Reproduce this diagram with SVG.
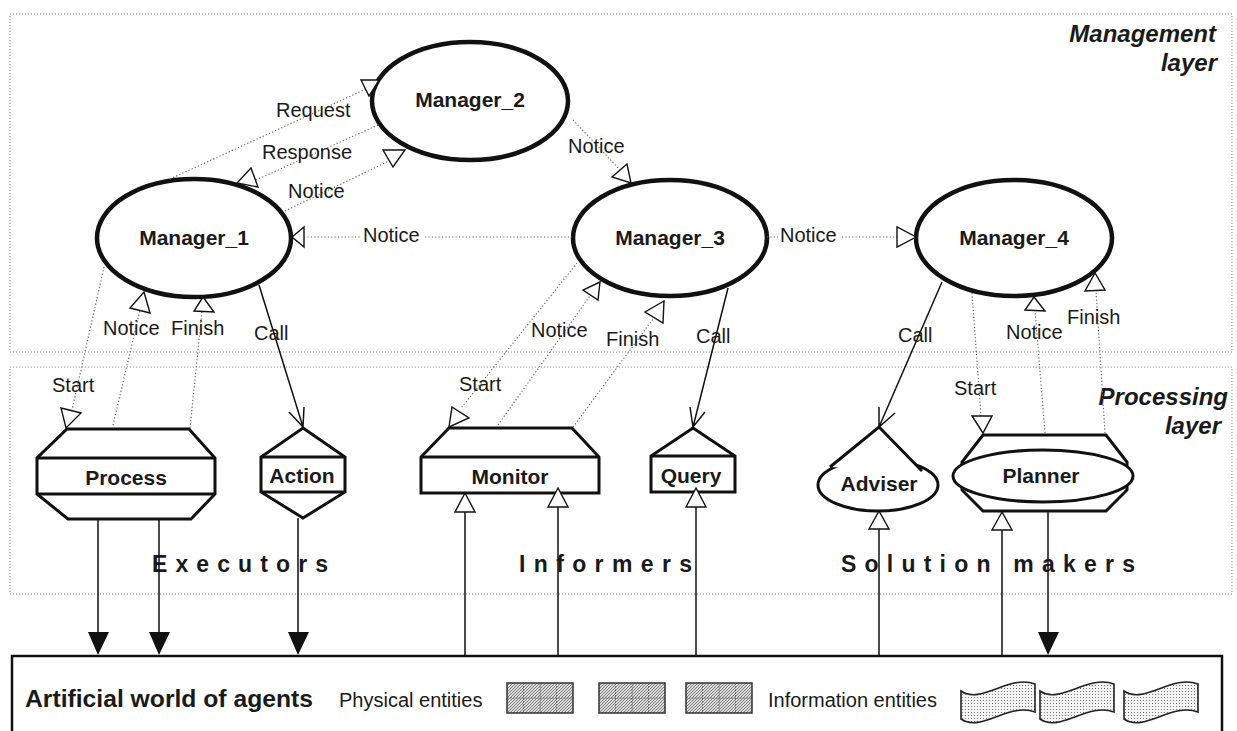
<svg xmlns="http://www.w3.org/2000/svg" width="1237" height="731" viewBox="0 0 1237 731">
<style>
.layer{fill:none;stroke:#888;stroke-width:1;stroke-dasharray:1 2}
.mgr{fill:#fff;stroke:#111;stroke-width:4.5}
.shp{fill:#fff;stroke:#111;stroke-width:3}
.dot{fill:none;stroke:#666;stroke-width:1.2;stroke-dasharray:1.2 2.2}
.sol{fill:none;stroke:#111;stroke-width:1.5}
.oa{fill:#fff;stroke:#111;stroke-width:1.4;stroke-linejoin:miter}
.fa{fill:#111}
text{font-family:"Liberation Sans",Arial,Helvetica,sans-serif;fill:#1a1a1a}
.lbl{font-size:20px}
.nb{font-size:21px;font-weight:bold;text-anchor:middle}
.ll{font-size:24px;font-weight:bold;font-style:italic;text-anchor:end}
.grp{font-size:23px;font-weight:bold}
</style>
<defs>
<pattern id="hatch" patternUnits="userSpaceOnUse" width="3" height="3">
<rect width="3" height="3" fill="#dcdcdc"/>
<path d="M-1,1 L1,-1 M0,3 L3,0 M2,4 L4,2" stroke="#555" stroke-width="0.7"/>
</pattern>
<pattern id="stip" patternUnits="userSpaceOnUse" width="3" height="3">
<rect width="3" height="3" fill="#f4f4f4"/>
<circle cx="1.5" cy="1.5" r="0.55" fill="#666"/>
</pattern>
<g id="phys">
<rect x="0" y="0" width="66" height="30" fill="url(#hatch)" stroke="#333" stroke-width="1.5"/>
<path d="M16.5,0 V30 M33,0 V30 M49.5,0 V30 M0,15 H66" stroke="#555" stroke-width="0.7" stroke-dasharray="2 1"/>
</g>
<path id="flag" d="M0,7 C20,21 48,-10 74,0 L74,28 C48,18 20,49 0,35 Z" fill="url(#stip)" stroke="#222" stroke-width="1.6"/>
</defs>

<g id="layers">
<rect class="layer" x="10" y="14" width="1222" height="338"/>
<rect class="layer" x="10" y="367" width="1222" height="227"/>
<text class="ll" x="1216" y="42">Management</text>
<text class="ll" x="1217" y="71">layer</text>
<text class="ll" x="1228" y="405">Processing</text>
<text class="ll" x="1221" y="434">layer</text>
<text class="grp" x="152" y="572" textLength="176" lengthAdjust="spacing">Executors</text>
<text class="grp" x="519" y="572" textLength="173" lengthAdjust="spacing">Informers</text>
<text class="grp" x="841" y="572" textLength="294" lengthAdjust="spacing">Solution makers</text>
</g>

<g id="manager_1"><ellipse class="mgr" cx="194" cy="238" rx="97" ry="59"/><text class="nb" x="194" y="245">Manager_1</text></g>
<g id="manager_2"><ellipse class="mgr" cx="470" cy="101" rx="98" ry="59"/><text class="nb" x="470" y="107">Manager_2</text></g>
<g id="manager_3"><ellipse class="mgr" cx="670" cy="238" rx="97" ry="58"/><text class="nb" x="670" y="245">Manager_3</text></g>
<g id="manager_4"><ellipse class="mgr" cx="1014" cy="238" rx="98" ry="58"/><text class="nb" x="1014" y="245">Manager_4</text></g>

<g id="process">
<polygon class="shp" points="67,429 189,429 215,458 215,494 191,519 68,519 37,494 37,458"/>
<path class="shp" d="M37,458 H215 M37,494 H215"/>
<text class="nb" x="126" y="485">Process</text>
</g>
<g id="action">
<polygon class="shp" points="303,428 345,457 345,492 303,518 261,492 261,457"/>
<path class="shp" d="M261,457 H345 M261,492 H345"/>
<text class="nb" x="302" y="483">Action</text>
</g>
<g id="monitor">
<polygon class="shp" points="449,428 572,428 599,457 599,493 421,493 421,457"/>
<path class="shp" d="M421,457 H599"/>
<text class="nb" x="510" y="484">Monitor</text>
</g>
<g id="query">
<polygon class="shp" points="693,428 735,456 735,492 651,492 651,456"/>
<path class="shp" d="M651,456 H735"/>
<text class="nb" x="691" y="483">Query</text>
</g>
<g id="adviser">
<ellipse class="shp" cx="878" cy="485" rx="60" ry="26"/>
<path class="shp" d="M830,467 L879,427 L922,471"/>
<text class="nb" x="879" y="491">Adviser</text>
</g>
<g id="planner">
<polygon class="shp" points="983,435 1106,435 1127,462 1127,490 1106,511 983,511 962,490 962,462"/>
<ellipse class="shp" cx="1043" cy="476" rx="90" ry="26"/>
<text class="nb" x="1041" y="483">Planner</text>
</g>

<g id="world">
<rect x="12" y="656" width="1210" height="100" fill="#fff" stroke="#111" stroke-width="2.5"/>
<text x="25" y="707" font-size="24" font-weight="bold" textLength="288" lengthAdjust="spacingAndGlyphs">Artificial world of agents</text>
<text class="lbl" x="339" y="707">Physical entities</text>
<use href="#phys" x="507" y="683"/>
<use href="#phys" x="599" y="683"/>
<use href="#phys" x="686" y="683"/>
<text class="lbl" x="768" y="707">Information entities</text>
<use href="#flag" x="961" y="684"/>
<use href="#flag" x="1040" y="684"/>
<use href="#flag" x="1124" y="684"/>
</g>

<g id="connectors">
<path class="dot" d="M170,179 L366,89"/>
<polygon class="oa" points="361,80 379,80 369,96"/>
<path class="dot" d="M378,125 L256,180"/>
<polygon class="oa" points="251,168 237,183 258,187"/>
<path class="dot" d="M285,211 L391,160"/>
<polygon class="oa" points="383,150 405,150 393,167"/>
<path class="dot" d="M573,120 L621,171"/>
<polygon class="oa" points="627,164 612,177 631,183"/>
<path class="dot" d="M304,237 L360,237 M425,237 L572,237"/>
<polygon class="oa" points="304,227 304,247 292,237"/>
<path class="dot" d="M767,237 L778,237 M842,237 L897,237"/>
<polygon class="oa" points="897,227 897,247 916,237"/>
<path class="dot" d="M104,267 L72,410"/>
<polygon class="oa" points="61,408 81,413 66,428"/>
<path class="dot" d="M113,425 L140,310"/>
<polygon class="oa" points="144,292 130,308 150,313"/>
<path class="dot" d="M190,428 L202,311"/>
<polygon class="oa" points="203,297 194,311 214,312"/>
<path class="dot" d="M577,263 L462,407"/>
<polygon class="oa" points="452,407 469,418 449,427"/>
<path class="dot" d="M498,425 L592,293"/>
<polygon class="oa" points="600,282 583,290 598,300"/>
<path class="dot" d="M573,427 L656,315"/>
<polygon class="oa" points="664,301 645,312 663,323"/>
<path class="dot" d="M972,293 L981,416"/>
<polygon class="oa" points="972,416 992,416 983,433"/>
<path class="dot" d="M1045,433 L1035,310"/>
<polygon class="oa" points="1034,297 1025,310 1045,311"/>
<path class="dot" d="M1105,433 L1096,291"/>
<polygon class="oa" points="1095,273 1085,291 1105,290"/>

<path class="sol" d="M259,285 L303,427 M289,412 L303,427 L304,407"/>
<path class="sol" d="M728,288 L693,427 M690,407 L693,427 L705,412"/>
<path class="sol" d="M942,282 L879,427 M879,407 L879,427 L895,413"/>

<path class="sol" d="M98,519 V634 M159,519 V634 M298,518 V634 M1048,511 V634"/>
<polygon class="fa" points="88,632 109,632 98,655"/>
<polygon class="fa" points="149,632 170,632 159,655"/>
<polygon class="fa" points="288,632 309,632 298,655"/>
<polygon class="fa" points="1038,632 1059,632 1048,655"/>

<path class="sol" d="M465,655 V512 M558,655 V507 M696,655 V507 M879,655 V529 M1002,655 V530"/>
<polygon class="oa" points="465,493 455,512 475,512"/>
<polygon class="oa" points="558,488 548,507 568,507"/>
<polygon class="oa" points="696,488 686,507 706,507"/>
<polygon class="oa" points="879,511 869,529 889,529"/>
<polygon class="oa" points="1002,512 992,530 1012,530"/>

<text class="lbl" x="276" y="117">Request</text>
<text class="lbl" x="262" y="159">Response</text>
<text class="lbl" x="288" y="198">Notice</text>
<text class="lbl" x="568" y="153">Notice</text>
<text class="lbl" x="363" y="242">Notice</text>
<text class="lbl" x="780" y="242">Notice</text>
<text class="lbl" x="103" y="335">Notice</text>
<text class="lbl" x="171" y="335">Finish</text>
<text class="lbl" x="254" y="340">Call</text>
<text class="lbl" x="52" y="392">Start</text>
<text class="lbl" x="531" y="337">Notice</text>
<text class="lbl" x="606" y="346">Finish</text>
<text class="lbl" x="696" y="343">Call</text>
<text class="lbl" x="459" y="391">Start</text>
<text class="lbl" x="898" y="342">Call</text>
<text class="lbl" x="1006" y="339">Notice</text>
<text class="lbl" x="1067" y="324">Finish</text>
<text class="lbl" x="954" y="395">Start</text>
</g>
</svg>
